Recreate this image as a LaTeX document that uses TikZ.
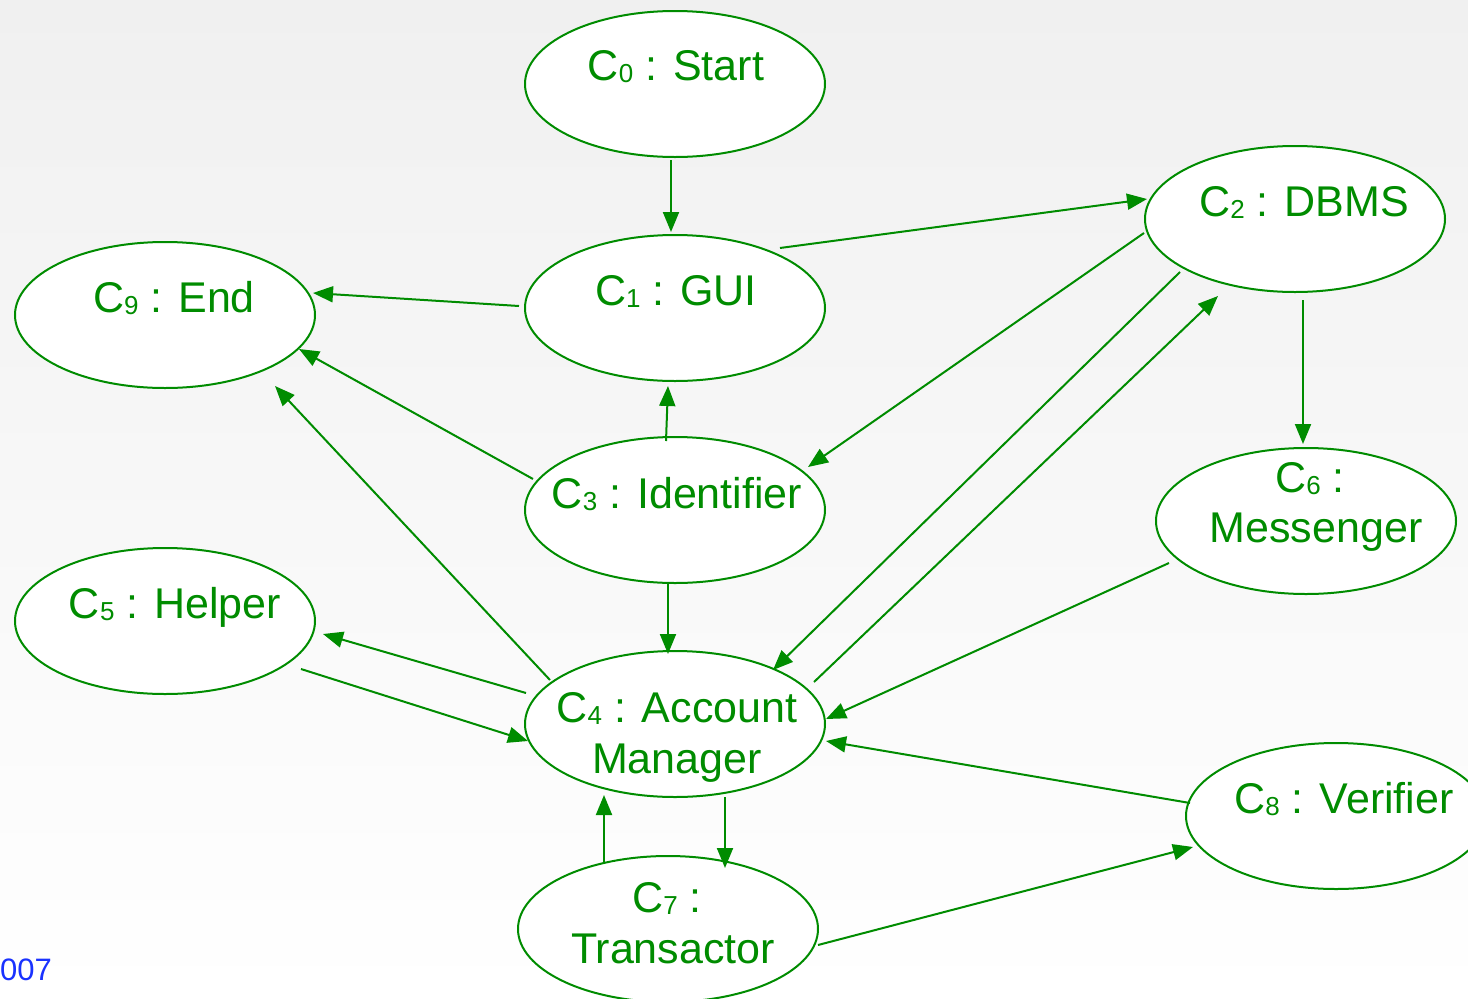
\documentclass[tikz,border=0pt]{standalone}
\usepackage{fontspec}
\setmainfont{Liberation Sans}
\usetikzlibrary{shapes.geometric,arrows.meta,calc}
\definecolor{ggreen}{RGB}{0,140,0}
\definecolor{bblue}{RGB}{25,50,255}
\definecolor{bgtop}{RGB}{240,240,240}
\newcommand\subdig[1]{\raisebox{-2pt}{\fontsize{26}{26}\selectfont #1}}
\begin{document}
\begin{tikzpicture}[x=1pt,y=-1pt,
  comp/.style={ellipse, draw=ggreen, line width=2pt, fill=white, minimum width=300pt, minimum height=146pt, inner sep=0pt},
  lbl/.style={anchor=base, text=ggreen, font=\fontsize{43}{50}\selectfont, inner sep=0pt},
  conn/.style={draw=ggreen, line width=2pt, -{Triangle[length=20pt,width=16pt]}}]
\path[use as bounding box] (0,0) rectangle (1468,999);
\clip (0,0) rectangle (1468,999);
\shade[top color=bgtop, bottom color=white] (0,0) rectangle (1468,999);

\node[comp] (c0) at (675,84) {};
\node[comp] (c1) at (675,308) {};
\node[comp] (c2) at (1295,219) {};
\node[comp] (c9) at (165,315) {};
\node[comp] (c3) at (675,510) {};
\node[comp] (c6) at (1306,521) {};
\node[comp] (c5) at (165,621) {};
\node[comp] (c4) at (675,724) {};
\node[comp] (c8) at (1336,816) {};
\node[comp] (c7) at (668,929) {};

\node[lbl] (t0) at (676,80) {C\subdig{0} : Start};
\node[lbl] (t1) at (676,305) {C\subdig{1} : GUI};
\node[lbl] (t2) at (1304,216) {C\subdig{2} : DBMS};
\node[lbl] (t9) at (174,312) {C\subdig{9} : End};
\node[lbl] (t3) at (677,508) {C\subdig{3} : Identifier};
\node[lbl] (t6a) at (1310,492) {C\subdig{6} :};
\node[lbl] (t6b) at (1316,542) {Messenger};
\node[lbl] (t5) at (175,618) {C\subdig{5} : Helper};
\node[lbl] (t4a) at (677,722) {C\subdig{4} : Account};
\node[lbl] (t4b) at (677,773) {Manager};
\node[lbl] (t8) at (1344,813) {C\subdig{8} : Verifier};
\node[lbl] (t7a) at (667,912) {C\subdig{7} :};
\node[lbl] (t7b) at (673,963) {Transactor};

\node[anchor=base west, text=bblue, font=\fontsize{31}{31}\selectfont, inner sep=0pt] (yr) at (0,980) {007};

\draw[conn] ($(c0)+(-4,76)$) -- ($(c1)+(-4,-76)$);
\draw[conn] ($(c1)+(105,-60)$) -- ($(c2)+(-148,-20)$);
\draw[conn] ($(c1)+(-156,-2)$) -- ($(c9)+(148,-22)$);
\draw[conn] ($(c2)+(-151,14)$) -- ($(c3)+(133,-43)$);
\draw[conn] ($(c2)+(-115,53)$) -- ($(c4)+(98,-54)$);
\draw[conn] ($(c4)+(139,-42)$) -- ($(c2)+(-77,77)$);
\draw[conn] ($(c2)+(8,81)$) -- ($(c6)+(-3,-77)$);
\draw[conn] ($(c3)+(-9,-69)$) -- ($(c1)+(-7,78)$);
\draw[conn] ($(c3)+(-142,-31)$) -- ($(c9)+(134,34)$);
\draw[conn] ($(c4)+(-125,-44)$) -- ($(c9)+(110,71)$);
\draw[conn] ($(c3)+(-7,73)$) -- ($(c4)+(-7,-70)$);
\draw[conn] ($(c4)+(-149,-31)$) -- ($(c5)+(158,13)$);
\draw[conn] ($(c5)+(136,48)$) -- ($(c4)+(-147,17)$);
\draw[conn] ($(c6)+(-137,42)$) -- ($(c4)+(151,-5)$);
\draw[conn] ($(c8)+(-146,-13)$) -- ($(c4)+(151,17)$);
\draw[conn] ($(c4)+(50,73)$) -- ($(c7)+(57,-61)$);
\draw[conn] ($(c7)+(-64,-67)$) -- ($(c4)+(-71,71)$);
\draw[conn] ($(c7)+(150,16)$) -- ($(c8)+(-143,31)$);
\end{tikzpicture}
\end{document}
